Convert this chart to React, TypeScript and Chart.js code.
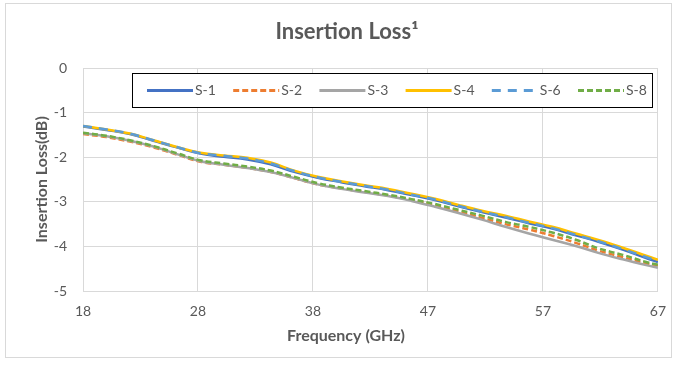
import { useEffect, useRef } from 'react';
import { Chart, registerables } from 'chart.js';

Chart.register(...registerables);

// Frequency sweep (GHz) and measured insertion loss (dB) per sample
const frequencies = [18, 20, 22, 24, 26, 28, 30, 32, 34, 36, 38, 40, 42, 44, 46, 48, 50, 52, 54, 56, 58, 60, 62, 64, 66, 67];

const s1 = [-1.31, -1.39, -1.48, -1.63, -1.78, -1.92, -1.99, -2.05, -2.16, -2.33, -2.46, -2.56, -2.65, -2.74, -2.85, -2.96, -3.10, -3.23, -3.35, -3.48, -3.60, -3.75, -3.90, -4.07, -4.26, -4.35];
const s2 = [-1.48, -1.55, -1.65, -1.78, -1.94, -2.10, -2.17, -2.24, -2.33, -2.47, -2.61, -2.70, -2.78, -2.86, -2.96, -3.08, -3.22, -3.36, -3.50, -3.62, -3.76, -3.92, -4.10, -4.24, -4.38, -4.43];
const s3 = [-1.46, -1.53, -1.63, -1.76, -1.93, -2.09, -2.17, -2.24, -2.33, -2.47, -2.61, -2.71, -2.79, -2.87, -2.98, -3.11, -3.25, -3.40, -3.56, -3.71, -3.85, -3.99, -4.15, -4.29, -4.42, -4.48];
const s4 = [-1.30, -1.38, -1.47, -1.62, -1.77, -1.90, -1.96, -2.01, -2.12, -2.30, -2.44, -2.54, -2.63, -2.71, -2.82, -2.93, -3.07, -3.20, -3.31, -3.44, -3.56, -3.71, -3.86, -4.03, -4.21, -4.30];
const s6 = [-1.30, -1.38, -1.47, -1.62, -1.77, -1.91, -1.97, -2.03, -2.14, -2.31, -2.45, -2.55, -2.64, -2.73, -2.84, -2.95, -3.09, -3.22, -3.34, -3.47, -3.59, -3.74, -3.89, -4.06, -4.24, -4.33];
const s8 = [-1.45, -1.52, -1.62, -1.75, -1.91, -2.07, -2.14, -2.21, -2.30, -2.44, -2.58, -2.68, -2.76, -2.84, -2.94, -3.05, -3.18, -3.31, -3.45, -3.56, -3.69, -3.85, -4.05, -4.19, -4.35, -4.41];

const seriesNames = ['S-1', 'S-2', 'S-3', 'S-4', 'S-6', 'S-8'];
const seriesValues = [s1, s2, s3, s4, s6, s8];

// Category-style x ticks: six evenly spaced sweep points, labelled rounded
const xTickValues = [18, 27.8, 37.6, 47.4, 57.2, 67];
const xTickLabels = ['18', '28', '38', '47', '57', '67'];

const chartTitle = 'Insertion Loss\u00b9';
const xAxisTitle = 'Frequency (GHz)';
const yAxisTitle = 'Insertion Loss(dB)';

const seriesStyles = [
  { color: '#4472C4', dash: [] as number[] },
  { color: '#ED7D31', dash: [6, 3] },
  { color: '#A5A5A5', dash: [] as number[] },
  { color: '#FFC000', dash: [] as number[] },
  { color: '#5B9BD5', dash: [9, 7] },
  { color: '#70AD47', dash: [6, 3] },
];

const FONT = "Lato, 'Open Sans', sans-serif";
const TEXT = '#595959';
const GRID = '#d9d9d9';

const decorations = {
  id: 'decorations',
  beforeDraw(chart: any) {
    const { ctx } = chart;
    ctx.save();
    ctx.fillStyle = '#ffffff';
    ctx.fillRect(0, 0, chart.width, chart.height);
    ctx.strokeStyle = GRID;
    ctx.lineWidth = 1;
    ctx.strokeRect(5.5, 3.5, 666, 354);
    ctx.restore();
  },
  afterDraw(chart: any) {
    const { ctx, chartArea } = chart;
    ctx.save();
    ctx.fillStyle = TEXT;
    ctx.textAlign = 'center';
    ctx.textBaseline = 'middle';

    // chart title
    ctx.font = `bold 22px ${FONT}`;
    ctx.fillText(chartTitle, 347, 32);

    // axis titles
    ctx.font = `bold 16px ${FONT}`;
    ctx.fillText(xAxisTitle, 346, 336);
    ctx.save();
    ctx.translate(42, (chartArea.top + chartArea.bottom) / 2);
    ctx.rotate(-Math.PI / 2);
    ctx.fillText(yAxisTitle, 0, 0);
    ctx.restore();

    // legend box inside the plot area
    const bx = 132.5, by = 73.5, bw = 520, bh = 34;
    ctx.fillStyle = '#ffffff';
    ctx.fillRect(bx, by, bw, bh);
    ctx.strokeStyle = '#000000';
    ctx.lineWidth = 1;
    ctx.strokeRect(bx, by, bw, bh);

    const ly = by + bh / 2;
    let x = 147;
    ctx.font = `14px ${FONT}`;
    ctx.textAlign = 'left';
    seriesNames.forEach((name, i) => {
      const st = seriesStyles[i];
      ctx.beginPath();
      ctx.setLineDash(st.dash);
      ctx.strokeStyle = st.color;
      ctx.lineWidth = 3;
      ctx.lineCap = 'butt';
      ctx.moveTo(x, ly);
      ctx.lineTo(x + 46, ly);
      ctx.stroke();
      ctx.setLineDash([]);
      ctx.fillStyle = TEXT;
      ctx.fillText(name, x + 48, ly);
      x += 86.2;
    });
    ctx.restore();
  },
};

export default function App() {
  const canvasRef = useRef<HTMLCanvasElement | null>(null);

  useEffect(() => {
    if (!canvasRef.current) return;
    Chart.defaults.font.family = FONT;
    const chart = new Chart(canvasRef.current, {
      type: 'line',
      data: {
        datasets: seriesNames.map((name, i) => ({
          label: name,
          data: frequencies.map((f, j) => ({ x: f, y: seriesValues[i][j] })),
          borderColor: seriesStyles[i].color,
          backgroundColor: seriesStyles[i].color,
          borderDash: seriesStyles[i].dash,
          borderWidth: 2.5,
          borderCapStyle: 'butt',
          pointRadius: 0,
          tension: 0.4,
          fill: false,
          order: seriesNames.length - i,
        })),
      },
      options: {
        responsive: false,
        animation: false,
        devicePixelRatio: 1,
        layout: { padding: { top: 68, right: 20, left: 0, bottom: 0 } },
        plugins: {
          legend: { display: false },
          title: { display: false },
          tooltip: { enabled: false },
        },
        scales: {
          x: {
            type: 'linear',
            min: 18,
            max: 67,
            afterBuildTicks: (scale: any) => {
              scale.ticks = xTickValues.map((v) => ({ value: v }));
            },
            afterFit: (scale: any) => {
              scale.height = 78;
            },
            ticks: {
              color: TEXT,
              font: { size: 14, family: FONT },
              padding: 12,
              maxRotation: 0,
              autoSkip: false,
              callback: (value: any) => {
                const idx = xTickValues.findIndex((v) => Math.abs(v - value) < 1e-6);
                return idx >= 0 ? xTickLabels[idx] : '';
              },
            },
            grid: { color: GRID, lineWidth: 1, drawTicks: false },
            border: { color: GRID },
          },
          y: {
            min: -5,
            max: 0,
            afterFit: (scale: any) => {
              scale.width = 83;
            },
            ticks: {
              stepSize: 1,
              color: TEXT,
              font: { size: 14, family: FONT },
              padding: 16,
            },
            grid: { color: GRID, lineWidth: 1, drawTicks: false },
            border: { color: GRID },
          },
        },
      },
      plugins: [decorations],
    } as any);
    return () => chart.destroy();
  }, []);

  return (
    <div style={{ position: 'absolute', left: 0, top: 0, width: 678, height: 369 }}>
      <canvas ref={canvasRef} width={678} height={369} />
    </div>
  );
}
